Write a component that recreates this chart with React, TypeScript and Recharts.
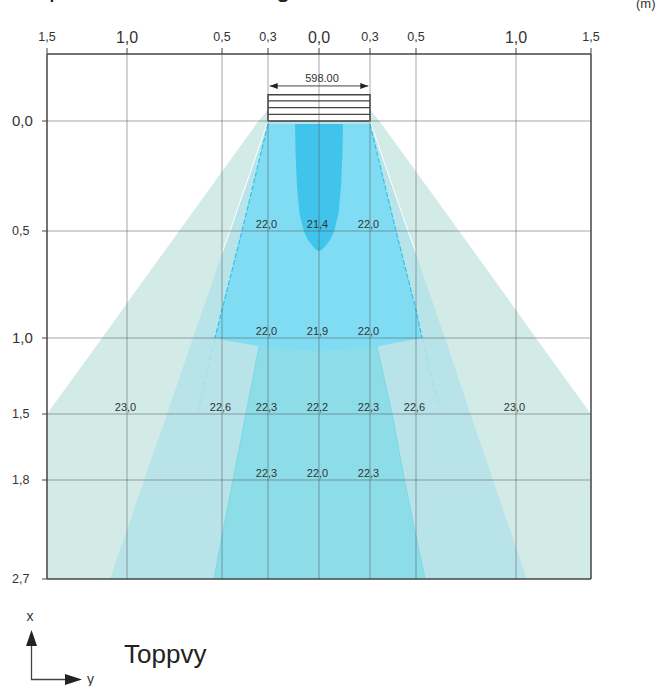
import {
  Area,
  ComposedChart,
  Line,
  ReferenceArea,
  ReferenceDot,
  ReferenceLine,
  XAxis,
  YAxis,
} from "recharts";

// metres across (y) and along (x) the floor, both axes are unevenly spaced in the drawing
const WIDTH_TICKS = [-1.5, -1, -0.5, -0.3, 0, 0.3, 0.5, 1, 1.5];
const DEPTH_TICKS = [0, 0.5, 1, 1.5, 1.8, 2.7];
const DEPTH_KNOTS = [-0.3, 0, 0.5, 1, 1.5, 1.8, 2.7];
const SLAT_DEPTHS = [-0.09, -0.06, -0.03];

// [depth, left edge, right edge]
type Band = [number, number, number];
const GREEN_ZONE: Band[] = [
  [-0.05, -0.3, 0.3],
  [0, -0.341, 0.341],
  [0.23, -0.5, 0.5],
  [0.5, -0.726, 0.715],
  [0.836, -1, 0.975],
  [0.869, -1.03, 1],
  [1, -1.156, 1.133],
  [1.5, -1.5, 1.5],
  [2.7, -1.5, 1.5],
];
const BLUE_ZONE: Band[] = [
  [0, -0.3, 0.3],
  [0.5, -0.465, 0.465],
  [0.607, -0.5, 0.5],
  [1, -0.653, 0.645],
  [1.5, -0.789, 0.772],
  [1.8, -0.91, 0.885],
  [2.255, -1, 0.97],
  [2.41, -1.0375, 1],
  [2.7, -1.106, 1.073],
];
const TEAL_ZONE: Band[] = [
  [1.053, -0.339, 0.33],
  [1.5, -0.396, 0.396],
  [1.8, -0.452, 0.45],
  [2.31, -0.5, 0.5],
  [2.7, -0.542, 0.545],
];
const CYAN_ZONE: Band[] = [
  [0.014, -0.3, 0.3],
  [0.5, -0.413, 0.413],
  [0.869, -0.5, 0.5],
  [1, -0.537, 0.53],
  [1.026, -0.443, 0.43],
  [1.053, -0.34, 0.34],
  [1.072, -0.18, 0.18],
  [1.086, 0, 0],
];
const CORE_ZONE: Band[] = [
  [0.014, -0.141, 0.141],
  [0.145, -0.138, 0.138],
  [0.3, -0.129, 0.129],
  [0.418, -0.115, 0.115],
  [0.495, -0.091, 0.091],
  [0.519, -0.079, 0.079],
  [0.542, -0.065, 0.065],
  [0.561, -0.047, 0.047],
  [0.573, -0.035, 0.035],
  [0.585, -0.02, 0.02],
  [0.591, -0.009, 0.009],
  [0.593, 0, 0],
];

const DASH_LEFT = [
  { depth: 0.014, y: -0.3 },
  { depth: 0.5, y: -0.413 },
  { depth: 0.869, y: -0.5 },
  { depth: 1, y: -0.537 },
];
const DASH_RIGHT = [
  { depth: 0.014, y: 0.3 },
  { depth: 0.5, y: 0.413 },
  { depth: 0.869, y: 0.5 },
  { depth: 1, y: 0.53 },
];
const FADE_LEFT = [
  { depth: 1, y: -0.537 },
  { depth: 1.5, y: -0.63 },
];
const FADE_RIGHT = [
  { depth: 1, y: 0.53 },
  { depth: 1.43, y: 0.61 },
];
const EDGE_LEFT = [
  { depth: 0, y: -0.3 },
  { depth: 0.5, y: -0.465 },
  { depth: 0.6, y: -0.5 },
];
const EDGE_RIGHT = [
  { depth: 0, y: 0.3 },
  { depth: 0.5, y: 0.465 },
  { depth: 0.6, y: 0.5 },
];

const LUX_ROWS: [number, number, string][] = [
  [0.5, -0.3, "22,0"],
  [0.5, 0, "21,4"],
  [0.5, 0.3, "22,0"],
  [1, -0.3, "22,0"],
  [1, 0, "21,9"],
  [1, 0.3, "22,0"],
  [1.5, -1, "23,0"],
  [1.5, -0.5, "22,6"],
  [1.5, -0.3, "22,3"],
  [1.5, 0, "22,2"],
  [1.5, 0.3, "22,3"],
  [1.5, 0.5, "22,6"],
  [1.5, 1, "23,0"],
  [1.8, -0.3, "22,3"],
  [1.8, 0, "22,0"],
  [1.8, 0.3, "22,3"],
];

const W = 667;
const H = 686;
const LEFT = 47;
const RIGHT = 591;
const TOP = 54;
const BOTTOM = 579;
const FONT = "'Liberation Sans', Arial, sans-serif";
const GRID = "rgba(80,80,80,0.5)";
const FRAME = "#444";

// piecewise linear scale, the drawing's axes are not to scale between ticks
function stretched(knots: number[], stops: number[]) {
  let dom = [knots[0], knots[knots.length - 1]];
  let rng = [0, 1];
  const s: any = (v: number) => {
    let i = 0;
    while (i < knots.length - 2 && v > knots[i + 1]) i++;
    const t = (v - knots[i]) / (knots[i + 1] - knots[i]);
    const f = stops[i] + t * (stops[i + 1] - stops[i]);
    return rng[0] + f * (rng[1] - rng[0]);
  };
  s.domain = (d?: number[]) => {
    if (!d) return dom;
    dom = d;
    return s;
  };
  s.range = (r?: number[]) => {
    if (!r) return rng;
    rng = r;
    return s;
  };
  s.copy = () => stretched(knots, stops).domain(dom).range(rng);
  s.ticks = () => knots;
  s.bandwidth = () => 0;
  return s;
}

const xScale = stretched(
  WIDTH_TICKS,
  [47, 127, 222, 268, 319, 370, 416, 516, 591].map((p) => (p - LEFT) / (RIGHT - LEFT)),
);
const yScale = stretched(
  DEPTH_KNOTS,
  [54, 121, 231, 338, 414, 480, 579].map((p) => (p - TOP) / (BOTTOM - TOP)),
);

const toRows = (band: Band[]) => band.map(([depth, l, r]) => ({ depth, span: [l, r] }));

const isBig = (v: number) => Math.abs(v) === 1 || v === 0;
const fmt = (v: number) => Math.abs(v).toFixed(1).replace(".", ",");

function TopTick({ x, payload }: any) {
  const big = isBig(payload.value);
  return (
    <text
      x={x}
      y={big ? 43 : 41}
      textAnchor="middle"
      fontSize={big ? 16 : 12.5}
      fontFamily={FONT}
      fill="#333"
    >
      {fmt(payload.value)}
    </text>
  );
}

function LeftTick({ y, payload }: any) {
  const big = payload.value === 0 || payload.value === 1;
  return (
    <text x={12} y={y + (big ? 5 : 4)} fontSize={big ? 15 : 12.5} fontFamily={FONT} fill="#333">
      {fmt(payload.value)}
    </text>
  );
}

function LuxLabel({ cx, cy, text }: any) {
  return (
    <text x={cx - 1.5} y={cy - 3} textAnchor="middle" fontSize={11} fontFamily={FONT} fill="#333">
      {text}
    </text>
  );
}

function ArrowHead({ cx, cy, dir }: any) {
  return <polygon points={`${cx},${cy} ${cx + dir * 8},${cy - 3} ${cx + dir * 8},${cy + 3}`} fill="#222" />;
}

const zones: [Band[], string, string][] = [
  [GREEN_ZONE, "#d2ebe7", "none"],
  [BLUE_ZONE, "#b7e3e9", "none"],
  [TEAL_ZONE, "#8ddde8", "#7fd8e4"],
  [CYAN_ZONE, "#7fdcf3", "none"],
  [CORE_ZONE, "#40c4ec", "none"],
];

export default function App() {
  return (
    <div style={{ position: "absolute", left: 0, top: 0, width: W, height: H, overflow: "hidden", background: "#fff" }}>
      <ComposedChart
        layout="vertical"
        width={W}
        height={H}
        margin={{ top: TOP - 1, left: LEFT - 1, right: W - RIGHT, bottom: H - BOTTOM }}
      >
        <XAxis
          xAxisId={0}
          type="number"
          orientation="top"
          height={1}
          domain={[-1.5, 1.5]}
          ticks={WIDTH_TICKS}
          interval={0}
          scale={xScale}
          allowDataOverflow
          tick={<TopTick />}
          tickSize={6}
          tickLine={{ stroke: FRAME }}
          axisLine={{ stroke: FRAME, strokeWidth: 1.5 }}
        />
        <YAxis
          yAxisId={0}
          type="number"
          dataKey="depth"
          width={1}
          domain={[-0.3, 2.7]}
          ticks={DEPTH_TICKS}
          interval={0}
          scale={yScale}
          allowDataOverflow
          tick={<LeftTick />}
          tickSize={5}
          tickLine={{ stroke: FRAME }}
          axisLine={{ stroke: FRAME, strokeWidth: 1.5 }}
        />
        {zones.map(([band, fill, stroke], i) => (
          <Area
            key={i}
            data={toRows(band)}
            dataKey="span"
            type="linear"
            fill={fill}
            fillOpacity={1}
            stroke={stroke}
            dot={false}
            activeDot={false}
            isAnimationActive={false}
          />
        ))}
        {[EDGE_LEFT, EDGE_RIGHT].map((d, i) => (
          <Line key={`e${i}`} data={d} dataKey="y" stroke="#fff" strokeWidth={1} dot={false} isAnimationActive={false} />
        ))}
        {[DASH_LEFT, DASH_RIGHT].map((d, i) => (
          <Line key={`d${i}`} data={d} dataKey="y" stroke="#2fc4ea" strokeWidth={1.2} strokeDasharray="5 2" dot={false} isAnimationActive={false} />
        ))}
        {[FADE_LEFT, FADE_RIGHT].map((d, i) => (
          <Line key={`f${i}`} data={d} dataKey="y" stroke="#9fdff0" strokeWidth={1.2} strokeDasharray="5 4" dot={false} isAnimationActive={false} />
        ))}

        <ReferenceArea x1={-0.3} x2={0.3} y1={-0.118} y2={0} fill="#fff" fillOpacity={1} stroke={FRAME} strokeWidth={1.5} />
        {SLAT_DEPTHS.map((d) => (
          <ReferenceLine key={d} segment={[{ x: -0.3, y: d }, { x: 0.3, y: d }]} stroke={FRAME} strokeWidth={1.2} />
        ))}
        {WIDTH_TICKS.slice(1, -1).map((v) => (
          <ReferenceLine key={v} x={v} stroke={GRID} />
        ))}
        {DEPTH_TICKS.slice(0, -1).map((v) => (
          <ReferenceLine key={v} y={v} stroke={GRID} />
        ))}
        <ReferenceLine x={1.5} stroke={FRAME} strokeWidth={1.5} />
        <ReferenceLine y={2.7} stroke={FRAME} strokeWidth={1.5} />

        <ReferenceLine segment={[{ x: -0.29, y: -0.157 }, { x: 0.29, y: -0.157 }]} stroke="#444" />
        <ReferenceDot x={-0.29} y={-0.157} r={0} shape={<ArrowHead dir={1} />} />
        <ReferenceDot x={0.29} y={-0.157} r={0} shape={<ArrowHead dir={-1} />} />

        {LUX_ROWS.map(([d, y, text]) => (
          <ReferenceDot key={`${d}${y}`} x={y} y={d} r={0} shape={<LuxLabel text={text} />} />
        ))}
      </ComposedChart>

      <svg width={W} height={H} style={{ position: "absolute", left: 0, top: 0, pointerEvents: "none" }} fontFamily={FONT}>
        <text x={322} y={82} textAnchor="middle" fontSize={11} fill="#333">598.00</text>
        <text x={49} y={-3} fontSize={26} fill="#222">p</text>
        <text x={276} y={-3} fontSize={26} fill="#222">g</text>
        <text x={636} y={8} fontSize={13} fill="#333">(m)</text>
        <text x={30} y={621} textAnchor="middle" fontSize={14} fill="#333">x</text>
        <path d="M31.5 640 V679.5 H70" fill="none" stroke="#444" strokeWidth={1.3} />
        <polygon points="31.5,630 26,646 37,646" fill="#222" />
        <polygon points="82,679.5 65,674 65,685" fill="#222" />
        <text x={87} y={684} fontSize={14} fill="#333">y</text>
        <text x={124} y={663} fontSize={26} fill="#222">Toppvy</text>
      </svg>
    </div>
  );
}
